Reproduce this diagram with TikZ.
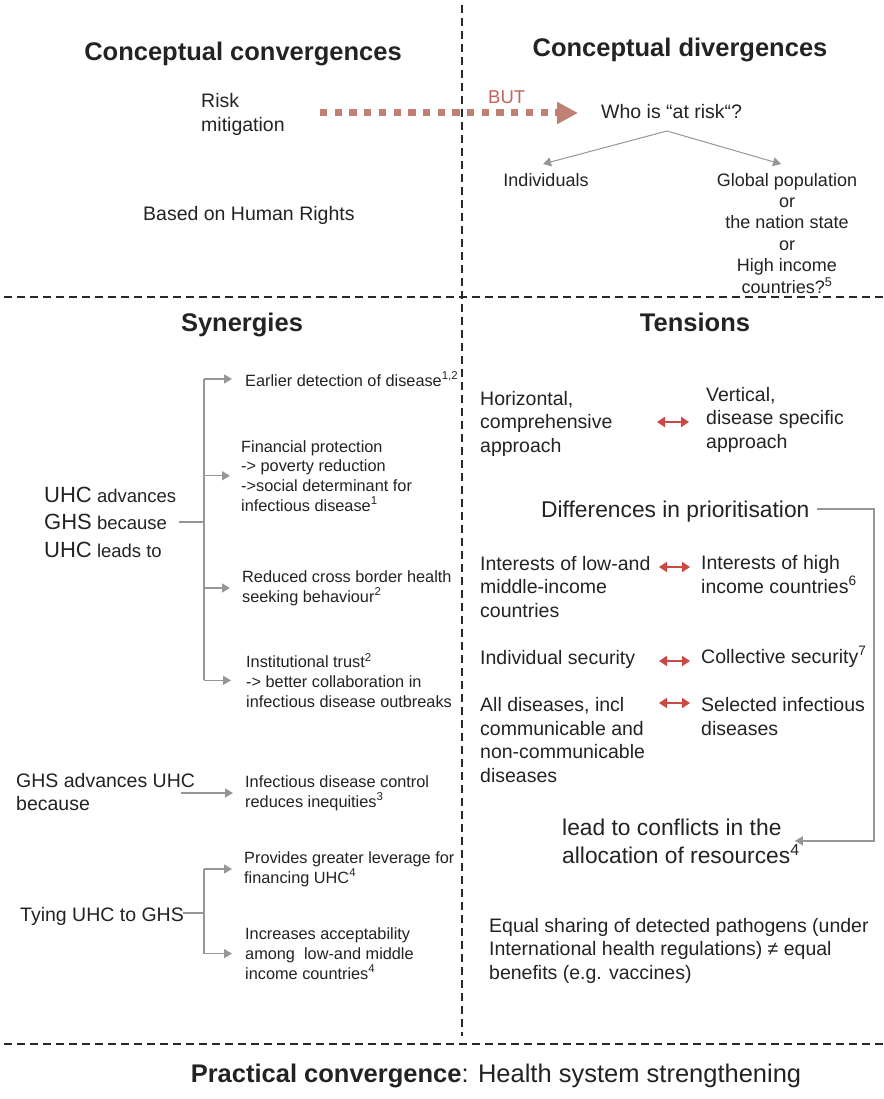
\documentclass[tikz,border=0pt]{standalone}
\usepackage{fontspec}
\setmainfont{Liberation Sans}
\usetikzlibrary{arrows.meta}

\definecolor{txtcol}{RGB}{35,35,35}
\definecolor{divcol}{RGB}{40,40,40}
\definecolor{butcol}{RGB}{193,128,116}
\definecolor{buttxt}{RGB}{192,100,90}
\definecolor{tenscol}{RGB}{204,72,66}
\definecolor{arrgray}{RGB}{150,150,153}

\newcommand{\fhead}{\fontsize{25.5}{30}\selectfont\bfseries}
\newcommand{\fbody}{\fontsize{19.5}{23.5}\selectfont}
\newcommand{\fsmall}{\fontsize{16.3}{19.6}\selectfont}
\newcommand{\fglob}{\fontsize{18}{21.4}\selectfont}
\newcommand{\fbig}{\fontsize{22.8}{28}\selectfont}
\newcommand{\fuhc}{\fontsize{22}{27.5}\selectfont}

\begin{document}
\begin{tikzpicture}[x=1pt,y=-1pt,
	lbl/.style={inner sep=0pt, anchor=base west, align=left, text=txtcol},
	head/.style={inner sep=0pt, anchor=base, text=txtcol, font=\fhead},
	divider/.style={draw=divcol, line width=1.6pt, dash pattern=on 8pt off 5pt},
	gline/.style={draw=arrgray, line width=1.3pt},
	garrow/.style={gline, -{Triangle[length=8pt,width=9pt]}},
	tensarrow/.style={draw=tenscol, line width=2pt, {Triangle[length=8pt,width=10pt]}-{Triangle[length=8pt,width=10pt]}},
	butline/.style={draw=butcol, line width=7pt, dash pattern=on 7.3pt off 7.4pt, -{Triangle[length=21pt,width=21pt]}}]

	\fill[white] (0,0) rectangle (883,1099);
	\useasboundingbox (0,0) rectangle (883,1099);

	% frame of the four quarters
	\draw[divider] (462,5) -- (462,1036);
	\draw[divider] (4,297) -- (883,297);
	\draw[divider] (4,1044) -- (883,1044);

	\node[head] (convhead) at (243,61) {Conceptual convergences};
	\node[head] (divhead) at (680,57) {Conceptual divergences};
	\node[head] (synhead) at (242,331) {Synergies};
	\node[head] (tenhead) at (695,331) {Tensions};
	\node[head] (practical) at (496,1082) {Practical convergence\mdseries: Health system strengthening};

	% conceptual convergences / divergences (node base = last line)
	\node[lbl, font=\fontsize{19.5}{24}\selectfont] (risk) at (201,132) {Risk\\mitigation};
	\node[lbl, font=\fbody] (rights) at (143,221) {Based on Human Rights};
	\node[lbl, font=\fontsize{18.5}{22}\selectfont, text=buttxt] (but) at (488,104) {BUT};
	\node[lbl, font=\fbody] (who) at (601,119) {Who is “at risk“?};
	\node[inner sep=0pt, anchor=base, text=txtcol, font=\fglob] (indiv) at (546,187) {Individuals};
	\node[inner sep=0pt, anchor=base, align=center, text=txtcol, font=\fglob] (globpop) at (787,293)
		{Global population\\or\\the nation state\\or\\High income\\countries?\textsuperscript{5}};

	\coordinate (butstart) at (320,113);
	\coordinate (butend) at (578,113);
	\draw[butline] (butstart) -- (butend);

	\coordinate (fork) at (667,131);
	\coordinate (indivtip) at (543,164);
	\coordinate (globtip) at (781,164);
	\draw[garrow, line width=1pt] (fork) -- (indivtip);
	\draw[garrow, line width=1pt] (fork) -- (globtip);

	% synergies
	\node[lbl, font=\fontsize{18.5}{27.5}\selectfont] (uhc) at (44,557)
		{{\fuhc UHC} advances\\{\fuhc GHS} because\\{\fuhc UHC} leads to};
	\node[lbl, font=\fsmall] (earlier) at (245,386) {Earlier detection of disease\textsuperscript{1,2}};
	\node[lbl, font=\fsmall] (finprot) at (241,511)
		{Financial protection\\-> poverty reduction\\->social determinant for\\infectious disease\textsuperscript{1}};
	\node[lbl, font=\fsmall] (border) at (242,602) {Reduced cross border health\\seeking behaviour\textsuperscript{2}};
	\node[lbl, font=\fsmall] (trust) at (246,707)
		{Institutional trust\textsuperscript{2}\\-> better collaboration in\\infectious disease outbreaks};

	\coordinate (synfork) at (204,522);
	\draw[gline] (179,522) -- (synfork);
	\draw[gline] (synfork |- earlier.west) -- (synfork |- trust.west);
	\draw[garrow] (synfork |- earlier.west) -- ([xshift=-13pt]earlier.west);
	\draw[garrow] (synfork |- finprot.west) -- ([xshift=-11pt]finprot.west);
	\draw[garrow] (synfork |- border.west) -- ([xshift=-12pt]border.west);
	\draw[garrow] (synfork |- trust.west) -- ([xshift=-15pt]trust.west);

	\node[lbl, font=\fontsize{19.5}{23}\selectfont] (ghs) at (16,810) {GHS advances UHC\\because};
	\node[lbl, font=\fsmall] (control) at (245,807) {Infectious disease control\\reduces inequities\textsuperscript{3}};
	\coordinate (ghsstart) at (181,792);
	\draw[garrow] (ghsstart |- control.west) -- ([xshift=-12pt]control.west);

	\node[lbl, font=\fbody] (tying) at (20,921) {Tying UHC to GHS};
	\node[lbl, font=\fsmall] (leverage) at (244,883) {Provides greater leverage for\\financing UHC\textsuperscript{4}};
	\node[lbl, font=\fsmall] (accept) at (245,979)
		{Increases acceptability\\among\ \ low-and middle\\income countries\textsuperscript{4}};
	\coordinate (tyfork) at (204,913);
	\draw[gline] (183,913) -- (tyfork);
	\draw[gline] (tyfork |- leverage.west) -- (tyfork |- accept.west);
	\draw[garrow] (tyfork |- leverage.west) -- ([xshift=-12pt]leverage.west);
	\draw[garrow] (tyfork |- accept.west) -- ([xshift=-13pt]accept.west);

	% tensions
	\node[lbl, font=\fbody] (horiz) at (480,452) {Horizontal,\\comprehensive\\approach};
	\node[lbl, font=\fbody] (vert) at (706,448) {Vertical,\\disease specific\\approach};
	\node[lbl, font=\fbig] (prio) at (541,517) {Differences in prioritisation};
	\node[lbl, font=\fbody] (lowmid) at (480,617) {Interests of low-and\\middle-income\\countries};
	\node[lbl, font=\fbody] (highinc) at (701,593) {Interests of high\\income countries\textsuperscript{6}};
	\node[lbl, font=\fbody] (indsec) at (480,664) {Individual security};
	\node[lbl, font=\fbody] (colsec) at (701,663) {Collective security\textsuperscript{7}};
	\node[lbl, font=\fbody] (alldis) at (480,782)
		{All diseases, incl\\communicable and\\non-communicable\\diseases};
	\node[lbl, font=\fbody] (selinf) at (701,735) {Selected infectious\\diseases};
	\node[lbl, font=\fbig] (conflict) at (562,863) {lead to conflicts in the\\allocation of resources\textsuperscript{4}};
	\node[lbl, font=\fbody] (equal) at (489,979)
		{Equal sharing of detected pathogens (under\\International health regulations) ≠ equal\\benefits (e.g. vaccines)};

	\coordinate (t1l) at (657,422);
	\coordinate (t1r) at (689,422);
	\coordinate (t2l) at (659,567);
	\coordinate (t2r) at (690,567);
	\coordinate (t3l) at (659,661);
	\coordinate (t3r) at (690,661);
	\coordinate (t4l) at (659,703);
	\coordinate (t4r) at (690,703);
	\draw[tensarrow] (t1l) -- (t1r);
	\draw[tensarrow] (t2l) -- (t2r);
	\draw[tensarrow] (t3l) -- (t3r);
	\draw[tensarrow] (t4l) -- (t4r);

	\coordinate (rtop) at (874,509);
	\draw[garrow] ([xshift=7pt]prio.east |- rtop) -- (rtop) |- ([xshift=-5pt]conflict.east);
\end{tikzpicture}
\end{document}
